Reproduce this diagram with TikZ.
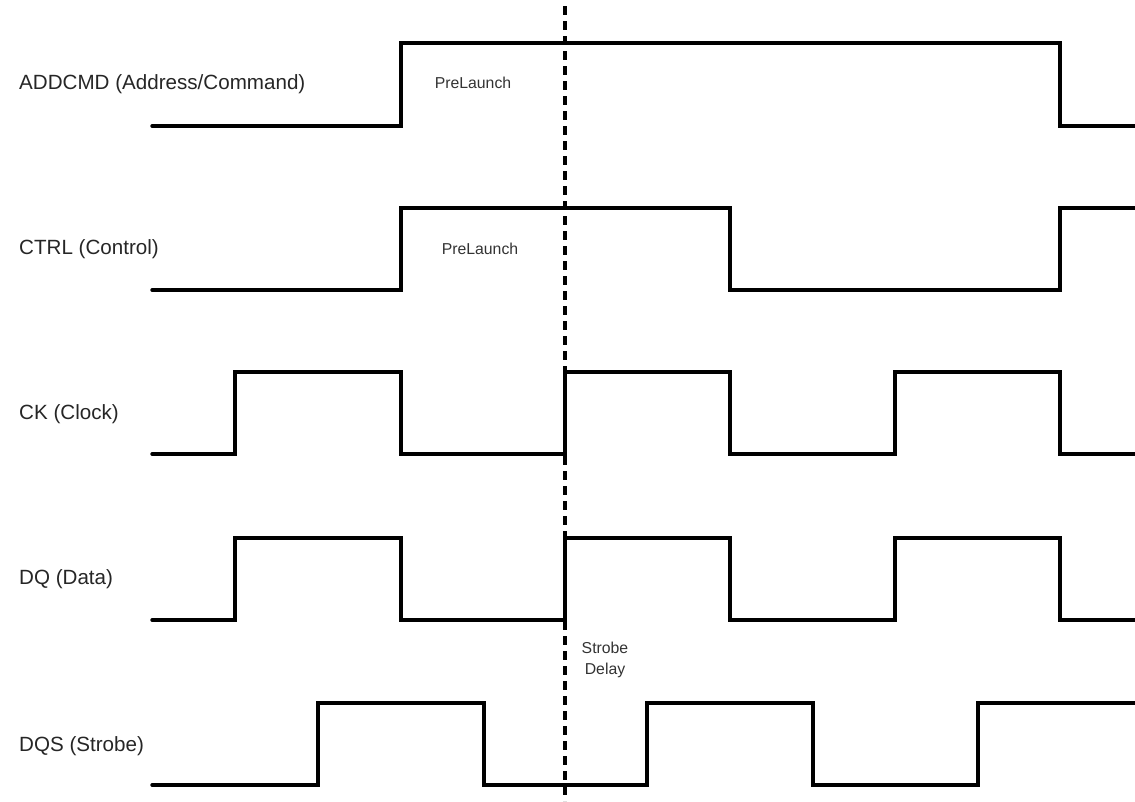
\documentclass[tikz,border=0pt]{standalone}
\usepackage{fontspec}
\setmainfont{Liberation Sans}
\begin{document}
\begin{tikzpicture}[x=1pt,y=-1pt,
  wave/.style={line width=3.4pt, line join=miter, line cap=round},
  siglabel/.style={anchor=base west, inner sep=0pt, font=\fontsize{20.6}{24}\selectfont, text=black!85},
  note/.style={inner sep=0pt, font=\fontsize{15.8}{21}\selectfont, text=black!80, align=center},
  marker/.style={line width=3.5pt, dash pattern=on 9pt off 6pt}]
\useasboundingbox (0,0) rectangle (1135,801);

% signal labels
\node[siglabel] (lab1) at (19,89) {ADDCMD (Address/Command)};
\node[siglabel] (lab2) at (19,254) {CTRL (Control)};
\node[siglabel] (lab3) at (19,419) {CK (Clock)};
\node[siglabel] (lab4) at (19,584) {DQ (Data)};
\node[siglabel] (lab5) at (19,751) {DQS (Strobe)};

% waveforms
\draw[wave] (152,126) -- (401,126) -- (401,43) -- (1060,43) -- (1060,126) -- (1140,126);
\draw[wave] (152,290) -- (401,290) -- (401,208) -- (730,208) -- (730,290) -- (1060,290) -- (1060,208) -- (1140,208);
\draw[wave] (152,454) -- (235,454) -- (235,372) -- (401,372) -- (401,454) -- (565,454) -- (565,372) -- (730,372) -- (730,454) -- (895,454) -- (895,372) -- (1060,372) -- (1060,454) -- (1140,454);
\draw[wave] (152,620) -- (235,620) -- (235,538) -- (401,538) -- (401,620) -- (565,620) -- (565,538) -- (730,538) -- (730,620) -- (895,620) -- (895,538) -- (1060,538) -- (1060,620) -- (1140,620);
\draw[wave] (152,785) -- (318,785) -- (318,703) -- (484,703) -- (484,785) -- (647,785) -- (647,703) -- (813,703) -- (813,785) -- (978,785) -- (978,703) -- (1140,703);

% reference marker
\coordinate (mtop) at (565,6);
\coordinate (mbot) at (565,801);
\draw[marker] (mtop) -- (mbot);

% notes
\node[note] (pl1) at (473,83) {PreLaunch};
\node[note] (pl2) at (480,249) {PreLaunch};
\node[note] (sd) at (605,660) {Strobe\\Delay};
\end{tikzpicture}
\end{document}
